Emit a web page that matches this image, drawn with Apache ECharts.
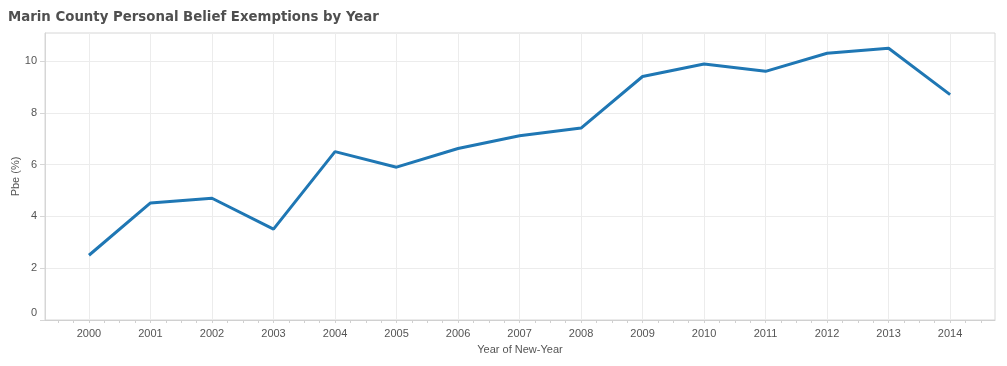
<!DOCTYPE html>
<html>
<head>
<meta charset="utf-8">
<script src="https://cdn.jsdelivr.net/npm/echarts@6/dist/echarts.min.js"></script>
<style>
html,body{margin:0;padding:0;background:#fff;}
#chart{width:1007px;height:366px;}
</style>
</head>
<body>
<div id="chart"></div>
<script>
var years = [2000,2001,2002,2003,2004,2005,2006,2007,2008,2009,2010,2011,2012,2013,2014];
var pbe = [2.50,4.52,4.70,3.51,6.50,5.90,6.62,7.11,7.41,9.40,9.88,9.60,10.30,10.49,8.70];
var yTicks = [0,2,4,6,8,10];
var quarterOffsets = [-0.5,-0.25,0,0.25,0.5];

var minorTicks = [];
years.forEach(function(y){ quarterOffsets.forEach(function(o){
  var v = y + o; if (minorTicks.indexOf(v) < 0) minorTicks.push(v);
});});

var chart = echarts.init(document.getElementById('chart'));
var labelColor = '#555555';
var font = '"Liberation Sans", Arial, sans-serif';
chart.setOption({
  animation: false,
  title: {
    text: 'Marin County Personal Belief Exemptions by Year',
    left: 3, top: 5,
    textStyle: {fontFamily: '"DejaVu Sans Condensed", "DejaVu Sans", sans-serif', fontWeight: 'bold', fontSize: 14.8, color: '#4f4f4f'}
  },
  grid: {left: 45, right: 12, top: 33, bottom: 46, show: true, borderColor: '#d6d6d6', borderWidth: 1, containLabel: false, outerBoundsMode: 'none'},
  xAxis: [{
    type: 'value', min: 1999.285, max: 2014.73,
    name: 'Year of New-Year', nameLocation: 'middle', nameGap: 24, nameMoveOverlap: false,
    nameTextStyle: {fontFamily: font, fontSize: 11, color: labelColor},
    axisLine: {show: true, lineStyle: {color: '#d0d0d0'}},
    axisTick: {show: false, customValues: years},
    axisLabel: {customValues: years, fontFamily: font, fontSize: 11, color: labelColor, margin: 8, formatter: function(v){return String(Math.round(v));}},
    splitLine: {show: true, lineStyle: {color: '#ececec', width: 1}}
  },{
    type: 'value', min: 1999.285, max: 2014.73, position: 'bottom',
    axisLine: {show: false},
    axisTick: {show: true, customValues: minorTicks, length: 3, lineStyle: {color: '#d0d0d0'}},
    axisLabel: {show: false},
    splitLine: {show: false}
  }],
  yAxis: {
    type: 'value', min: 0, max: 11.08,
    name: 'Pbe (%)', nameLocation: 'middle', nameGap: 24, nameRotate: 90, nameMoveOverlap: false,
    nameTextStyle: {fontFamily: font, fontSize: 11, color: labelColor},
    axisLine: {show: true, lineStyle: {color: '#d6d6d6'}},
    axisTick: {show: true, customValues: yTicks, length: 5, lineStyle: {color: '#d6d6d6'}},
    axisLabel: {customValues: yTicks, fontFamily: font, fontSize: 11, color: labelColor, margin: 8,
      formatter: function(v){ return v === 0 ? '{z|0}' : String(v); },
      rich: {z: {fontFamily: font, fontSize: 11, color: labelColor, padding: [0,0,15,0]}}},
    splitLine: {show: true, lineStyle: {color: '#ececec', width: 1}}
  },
  series: [{
    type: 'line', xAxisIndex: 0,
    data: years.map(function(y,i){ return [y, pbe[i]]; }),
    symbol: 'none',
    lineStyle: {color: '#1f77b4', width: 3},
    z: 5
  }]
});
</script>
</body>
</html>
